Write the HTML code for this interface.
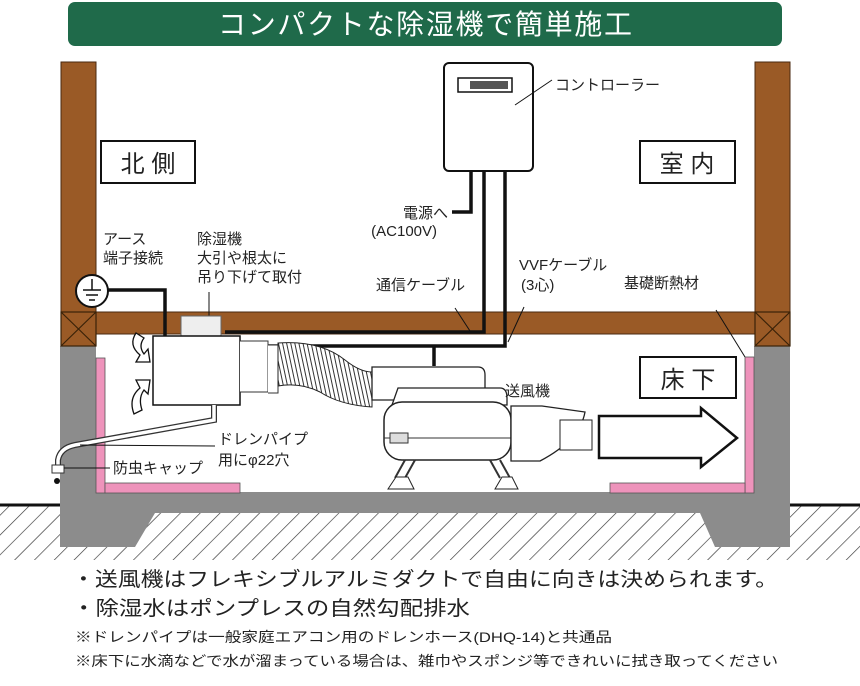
<!DOCTYPE html>
<html><head><meta charset="utf-8"><style>
html,body{margin:0;padding:0;background:#fff;}
svg{display:block;}
text{font-family:"Liberation Sans","Noto Sans CJK JP",sans-serif;fill:#222;}
</style></head><body>
<svg width="860" height="686" viewBox="0 0 860 686" xmlns="http://www.w3.org/2000/svg">
<defs>
<pattern id="h" width="14" height="14" patternUnits="userSpaceOnUse" patternTransform="rotate(45)">
<rect width="14" height="14" fill="#fff"/><line x1="0" y1="0" x2="0" y2="14" stroke="#333" stroke-width="1.3"/>
</pattern>
<pattern id="duct" width="4" height="10" patternUnits="userSpaceOnUse" patternTransform="rotate(-12)">
<rect width="4" height="10" fill="#fff"/><line x1="1" y1="0" x2="1" y2="10" stroke="#333" stroke-width="1"/>
</pattern>
</defs>
<!-- title -->
<rect x="68" y="2" width="714" height="44" rx="7" fill="#1f6a4a"/>
<text x="425" y="34" font-size="28" text-anchor="middle" style="fill:#fff" textLength="414">コンパクトな除湿機で簡単施工</text>

<!-- ground hatch -->
<rect x="0" y="505" width="860" height="55" fill="url(#h)"/>
<line x1="0" y1="505" x2="62" y2="505" stroke="#111" stroke-width="3"/>
<line x1="790" y1="505" x2="860" y2="505" stroke="#111" stroke-width="3"/>
<!-- foundation -->
<path d="M60 346 H96 V492 H754 V346 H790 V547 H715 L700 513 H155 L135 547 H60 Z" fill="#8c8c8c"/>
<!-- pink insulation -->
<rect x="96" y="358" width="9" height="135" fill="#ee93bb" stroke="#555" stroke-width="0.8"/>
<rect x="105" y="483" width="135" height="10" fill="#ee93bb" stroke="#555" stroke-width="0.8"/>
<rect x="745" y="357" width="9" height="136" fill="#ee93bb" stroke="#555" stroke-width="0.8"/>
<rect x="610" y="483" width="135" height="10" fill="#ee93bb" stroke="#555" stroke-width="0.8"/>

<!-- wood -->
<rect x="61" y="62" width="35" height="250" fill="#9a5a26" stroke="#4a2a10" stroke-width="1"/>
<rect x="755" y="62" width="35" height="250" fill="#9a5a26" stroke="#4a2a10" stroke-width="1"/>
<rect x="96" y="312" width="659" height="22" fill="#9a5a26" stroke="#4a2a10" stroke-width="1"/>
<g stroke="#3a2208" stroke-width="1.2" fill="#9a5a26">
<rect x="61" y="312" width="35" height="34"/><path d="M61 312 L96 346 M96 312 L61 346"/>
<rect x="755" y="312" width="35" height="34"/><path d="M755 312 L790 346 M790 312 L755 346"/>
</g>

<!-- labels boxes -->
<rect x="101" y="141" width="94" height="42" fill="#fff" stroke="#111" stroke-width="2"/>
<text x="148" y="172" font-size="24" text-anchor="middle">北 側</text>
<rect x="640" y="141" width="95" height="42" fill="#fff" stroke="#111" stroke-width="2"/>
<text x="687" y="172" font-size="24" text-anchor="middle">室 内</text>
<rect x="640" y="357" width="96" height="41" fill="#fff" stroke="#111" stroke-width="2"/>
<text x="688" y="388" font-size="24" text-anchor="middle">床 下</text>

<!-- controller -->
<rect x="444" y="63" width="89" height="108" rx="5" fill="#fff" stroke="#111" stroke-width="2"/>
<rect x="458" y="78" width="54" height="14" fill="#fff" stroke="#111" stroke-width="1.5"/>
<rect x="470" y="81" width="38" height="8" fill="#555"/>
<line x1="515" y1="105" x2="552" y2="80" stroke="#111"/>
<text x="555" y="90" font-size="15">コントローラー</text>

<!-- cables -->
<g fill="none" stroke="#111" stroke-width="3.5">
<path d="M471 171 V212 H452"/>
<path d="M484 171 V332 H225"/>
<path d="M505 171 V346 H258"/>
<path d="M434 346 V366"/>
<path d="M106 290 H165 V336"/>
</g>
<text x="448" y="218" font-size="15" text-anchor="end">電源へ</text>
<text x="437" y="236" font-size="15" text-anchor="end">(AC100V)</text>
<text x="376" y="290" font-size="15">通信ケーブル</text>
<line x1="455" y1="308" x2="470" y2="331" stroke="#111"/>
<text x="519" y="270" font-size="15">VVFケーブル</text>
<text x="521" y="290" font-size="15">(3心)</text>
<line x1="524" y1="307" x2="508" y2="342" stroke="#111"/>
<text x="624" y="288" font-size="15">基礎断熱材</text>
<line x1="716" y1="310" x2="745" y2="357" stroke="#111"/>

<!-- earth -->
<text x="103" y="244" font-size="15">アース</text>
<text x="103" y="263" font-size="15">端子接続</text>
<circle cx="92" cy="291" r="16" fill="#fff" stroke="#111" stroke-width="2"/>
<path d="M92 279 V290 M83 290 H101 M86 295 H98 M89 300 H95" stroke="#111" stroke-width="1.5"/>

<text x="197" y="244" font-size="15">除湿機</text>
<text x="197" y="263" font-size="15">大引や根太に</text>
<text x="197" y="282" font-size="15">吊り下げて取付</text>
<line x1="209" y1="292" x2="209" y2="316" stroke="#111"/>

<!-- dehumidifier -->
<rect x="181" y="316" width="40" height="20" fill="#eee" stroke="#666"/>
<rect x="153" y="336" width="87" height="69" fill="#fff" stroke="#111" stroke-width="1.5"/>
<path d="M240 341 H268 V392 H240" fill="#fff" stroke="#333"/>
<path d="M268 345 H278 V393 H268" fill="#fff" stroke="#333"/>
<path d="M278 343 Q320 340 345 360 Q360 372 372 372 V407 Q340 405 320 392 Q300 382 278 386 Z" fill="url(#duct)" stroke="#222"/>
<!-- drain pipe -->
<path d="M214 405 V420 L75 445 Q60 448 58 460 V470" fill="none" stroke="#333" stroke-width="6"/>
<path d="M214 405 V420 L75 445 Q60 448 58 460 V470" fill="none" stroke="#fff" stroke-width="3.5"/>
<rect x="52" y="465" width="12" height="8" fill="#fff" stroke="#333"/>
<circle cx="57" cy="481" r="3" fill="#111"/>
<line x1="80" y1="445" x2="215" y2="446" stroke="#111"/>
<line x1="64" y1="468" x2="110" y2="468" stroke="#111"/>
<text x="218" y="444" font-size="15">ドレンパイプ</text>
<text x="218" y="465" font-size="15">用にφ22穴</text>
<text x="113" y="473" font-size="15">防虫キャップ</text>

<!-- air arrows -->
<g fill="#fff" stroke="#111" stroke-width="1.3">
<path d="M136 333 Q128 345 140 355 L136 362 L150 362 L148 349 L144 354 Q138 346 144 338 Z"/>
<path d="M134 414 Q128 398 140 388 L136 380 L150 380 L148 394 L144 390 Q138 398 142 410 Z"/>
</g>

<!-- fan -->
<path d="M372 367 H478 Q485 367 485 375 V400 H372 Z" fill="#fff" stroke="#222" stroke-width="1.3"/>
<path d="M398 388 H500 Q507 388 507 398 V405 H392 Z" fill="#fff" stroke="#222" stroke-width="1.3"/>
<rect x="384" y="402" width="127" height="58" rx="18" fill="#fff" stroke="#222" stroke-width="1.5"/>
<line x1="384" y1="438" x2="511" y2="438" stroke="#333"/>
<path d="M511 406 H542 L585 412 Q580 440 540 461 H511 Z" fill="#fff" stroke="#222" stroke-width="1.3"/>
<rect x="560" y="420" width="32" height="30" fill="#fff" stroke="#222"/>
<rect x="390" y="433" width="18" height="10" fill="#ddd" stroke="#333"/>
<path d="M405 460 L395 478 M415 460 L405 478 M490 460 L500 478 M500 460 L510 478" stroke="#333" stroke-width="2"/>
<path d="M388 489 L396 477 H408 L414 489 Z M495 489 L502 477 H512 L518 489 Z" fill="#fff" stroke="#222"/>
<text x="505" y="396" font-size="15">送風機</text>

<!-- big arrow -->
<path d="M599 416 H701 V408 L737 438 L701 467 V458 H599 Z" fill="#fff" stroke="#111" stroke-width="2.5"/>

<!-- bottom text -->
<text x="72" y="586" font-size="20" textLength="706" lengthAdjust="spacingAndGlyphs">・送風機はフレキシブルアルミダクトで自由に向きは決められます。</text>
<text x="72" y="615" font-size="20" textLength="398" lengthAdjust="spacingAndGlyphs">・除湿水はポンプレスの自然勾配排水</text>
<text x="75" y="642" font-size="14" textLength="537" lengthAdjust="spacingAndGlyphs">※ドレンパイプは一般家庭エアコン用のドレンホース(DHQ-14)と共通品</text>
<text x="75" y="666" font-size="14" textLength="703" lengthAdjust="spacingAndGlyphs">※床下に水滴などで水が溜まっている場合は、雑巾やスポンジ等できれいに拭き取ってください</text>
</svg>
</body></html>
